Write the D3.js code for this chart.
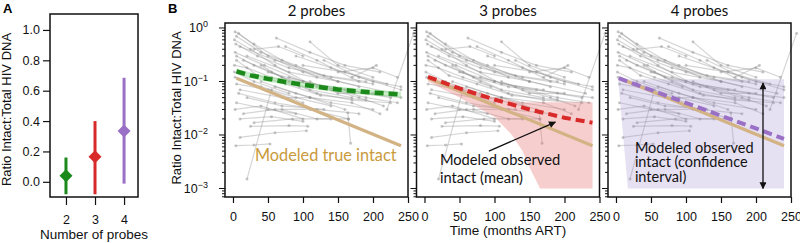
<!DOCTYPE html>
<html><head><meta charset="utf-8">
<script src="https://cdn.jsdelivr.net/npm/d3@7"></script>
<style>
body{margin:0;background:#fff;}
svg{display:block;}
</style></head><body>
<svg id="c" width="800" height="243"></svg>
<script>
// ---------- DATA ----------
const probes = [2, 3, 4];
const ratioMean = [0.04, 0.165, 0.335];
const ratioLow = [-0.082, -0.082, -0.012];
const ratioHigh = [0.16, 0.40, 0.685];
const probeColors = ["#1b8a1b", "#d92a2a", "#9a6fc6"];
const yTicksA = [0, 0.2, 0.4, 0.6, 0.8, 1.0];

const panelTitles = ["2 probes", "3 probes", "4 probes"];
const xTicksB = [0, 50, 100, 150, 200, 250];
const yTickExpB = [0, -1, -2, -3];

// patient trajectories [months ART, ratio]
const trajectories = [
  [[3,0.85],[30,0.5],[70,0.25],[120,0.12]],
  [[5,0.7],[40,0.35],[90,0.2],[150,0.1]],
  [[2,0.6],[25,0.4],[60,0.2],[110,0.09],[170,0.07]],
  [[8,0.8],[50,0.3],[100,0.15],[180,0.08]],
  [[4,0.5],[35,0.3],[80,0.18],[140,0.12],[200,0.09]],
  [[10,0.45],[60,0.25],[130,0.13],[190,0.1]],
  [[3,0.35],[45,0.2],[100,0.1]],
  [[62,0.65],[110,0.35],[160,0.2],[210,0.15]],
  [[75,0.45],[120,0.25],[180,0.1]],
  [[110,0.55],[150,0.2],[200,0.12]],
  [[30,0.4],[65,0.45],[100,0.3]],
  [[15,0.25],[55,0.15],[110,0.07],[170,0.05]],
  [[5,0.3],[30,0.2],[70,0.12],[120,0.08],[200,0.06]],
  [[20,0.3],[80,0.15],[150,0.1],[230,0.06]],
  [[90,0.3],[140,0.18],[200,0.1],[240,0.08]],
  [[100,0.2],[160,0.15],[220,0.09]],
  [[130,0.25],[180,0.12],[240,0.07]],
  [[150,0.15],[200,0.18],[235,0.12]],
  [[170,0.12],[205,0.2]],
  [[3,0.12],[40,0.08],[90,0.05],[140,0.035]],
  [[5,0.09],[50,0.07],[100,0.04]],
  [[8,0.06],[60,0.04],[120,0.03],[180,0.025]],
  [[2,0.15],[30,0.1],[80,0.06]],
  [[10,0.07],[70,0.05],[110,0.05],[160,0.03]],
  [[40,0.1],[90,0.06],[140,0.04],[200,0.03]],
  [[60,0.08],[110,0.05],[170,0.04],[210,0.025]],
  [[80,0.12],[130,0.08],[190,0.05],[235,0.04]],
  [[20,0.05],[70,0.035],[130,0.03]],
  [[5,0.04],[50,0.03],[90,0.025]],
  [[3,0.03],[40,0.035],[100,0.02]],
  [[15,0.025],[60,0.03],[110,0.03],[165,0.02]],
  [[10,0.02],[55,0.022],[100,0.018]],
  [[25,0.0145],[80,0.015],[107,0.0146]],
  [[4,0.0063],[30,0.0065],[53,0.0068]],
  [[10,0.009],[60,0.011],[105,0.012]],
  [[20,0.0015],[55,0.07]],
  [[164,0.026],[168,0.007]],
  [[220,0.03],[258,0.8]],
  [[40,0.2],[80,0.1],[120,0.06],[170,0.045],[225,0.04]],
  [[50,0.15],[100,0.1],[160,0.07],[225,0.05]],
  [[110,0.1],[150,0.06],[190,0.06],[240,0.05]],
  [[2,0.2],[20,0.18],[55,0.12],[95,0.08]],
  [[140,0.07],[180,0.05],[215,0.035]],
  [[30,0.017],[85,0.02],[140,0.02]],
  [[5,0.25],[35,0.13],[75,0.09],[125,0.055],[190,0.045]],
  [[70,0.03],[120,0.02],[165,0.02]]
];

// model curves
const trueMonths = [5, 240];
const trueVals = [0.115, 0.0063];
const obs2Months = [5, 25, 50, 75, 100, 125, 150, 175, 200, 225, 240];
const obs2Vals = [0.155, 0.13, 0.112, 0.098, 0.087, 0.078, 0.071, 0.066, 0.062, 0.059, 0.057];
const obs3Months = [5, 50, 100, 150, 200, 240];
const obs3Vals = [0.122, 0.074, 0.046, 0.03, 0.021, 0.017];
const obs4Months = [4, 240];
const obs4Vals = [0.115, 0.0085];
const band3Months = [5, 50, 100, 125, 140, 150, 165, 240];
const band3Low = [0.1, 0.05, 0.022, 0.01, 0.005, 0.0025, 0.001, 0.001];
const band3High = [0.13, 0.08, 0.05, 0.043, 0.041, 0.041, 0.041, 0.041];
const band4Months = [3, 240, 240, 17];
const band4Vals = [0.11, 0.11, 0.001, 0.001];

// ---------- DRAW ----------
const svg = d3.select("#c");
const font = "Liberation Sans, Arial, sans-serif";
const annFont = "Lato, sans-serif";

// Panel A
const A = {l: 50, r: 138, t: 14, b: 197};
const xA = d3.scaleLinear().domain([1.45, 4.48]).range([A.l, A.r]);
const yA = d3.scaleLinear().domain([-0.1, 1.105]).range([A.b, A.t]);
const gA = svg.append("g");
gA.append("g").attr("transform", `translate(${A.l},0)`)
  .call(d3.axisLeft(yA).tickValues(yTicksA).tickFormat(d3.format(".1f")).tickSize(7).tickPadding(3))
  .call(g => g.select(".domain").remove())
  .call(g => g.selectAll("text").attr("font-size", 12.5).attr("font-family", font).attr("fill", "#111"))
  .call(g => g.selectAll("line").attr("stroke", "#111").attr("stroke-width", 1.2));
gA.append("g").attr("transform", `translate(0,${A.b})`)
  .call(d3.axisBottom(xA).tickValues(probes).tickFormat(d3.format("d")).tickSize(8).tickPadding(10))
  .call(g => g.select(".domain").remove())
  .call(g => g.selectAll("text").attr("font-size", 12.5).attr("font-family", font).attr("fill", "#111"))
  .call(g => g.selectAll("line").attr("stroke", "#111").attr("stroke-width", 1.2));
probes.forEach((p, i) => {
  gA.append("line").attr("x1", xA(p)).attr("x2", xA(p))
    .attr("y1", yA(ratioLow[i])).attr("y2", yA(ratioHigh[i]))
    .attr("stroke", probeColors[i]).attr("stroke-width", 3);
  const cx = xA(p), cy = yA(ratioMean[i]), s = 6.5;
  gA.append("path").attr("d", `M${cx},${cy - s}L${cx + s},${cy}L${cx},${cy + s}L${cx - s},${cy}Z`)
    .attr("fill", probeColors[i]);
});
gA.append("rect").attr("x", A.l).attr("y", A.t).attr("width", A.r - A.l).attr("height", A.b - A.t)
  .attr("fill", "none").attr("stroke", "#111").attr("stroke-width", 1.5);
gA.append("text").attr("transform", `translate(11,${(A.t + A.b) / 2 + 4}) rotate(-90)`)
  .attr("text-anchor", "middle").attr("font-size", 13).attr("font-family", font).attr("fill", "#111")
  .text("Ratio Intact:Total HIV DNA");
gA.append("text").attr("x", (A.l + A.r) / 2).attr("y", 239).attr("text-anchor", "middle")
  .attr("font-size", 13.5).attr("font-family", font).attr("fill", "#111").text("Number of probes");
svg.append("text").attr("x", 3).attr("y", 13).attr("font-size", 13).attr("font-weight", "bold")
  .attr("font-family", font).text("A");
svg.append("text").attr("x", 168).attr("y", 13).attr("font-size", 13).attr("font-weight", "bold")
  .attr("font-family", font).text("B");

// Panel B
const panelLefts = [225, 416.5, 608];
const pw = 183, pTop = 23, pBot = 197;
const yB = d3.scaleLog().domain([Math.pow(10, -3.159), Math.pow(10, 0.093)]).range([pBot, pTop]);

svg.append("text").attr("transform", `translate(181,${(pTop + pBot) / 2 - 2}) rotate(-90)`)
  .attr("text-anchor", "middle").attr("font-size", 13).attr("font-family", font).attr("fill", "#111")
  .text("Ratio Intact:Total HIV DNA");

const defs = svg.append("defs");
defs.append("marker").attr("id", "ah").attr("viewBox", "0 0 10 10").attr("refX", 9).attr("refY", 5)
  .attr("markerWidth", 9).attr("markerHeight", 7).attr("markerUnits", "userSpaceOnUse").attr("orient", "auto-start-reverse")
  .append("path").attr("d", "M0,0L10,5L0,10Z").attr("fill", "#111");

panelLefts.forEach((L, pi) => {
  const x = d3.scaleLinear().domain([-11.4, 250]).range([L, L + pw]);
  const y = yB;
  const g = svg.append("g");
  const line = d3.line().x(d => x(d[0])).y(d => y(d[1]));

  // trajectories
  trajectories.forEach(t => {
    g.append("path").attr("d", line(t)).attr("fill", "none")
      .attr("stroke", "#8a8a8a").attr("stroke-opacity", 0.36).attr("stroke-width", 1.2);
    t.forEach(p => g.append("circle").attr("cx", x(p[0])).attr("cy", y(p[1])).attr("r", 1.5)
      .attr("fill", "#8a8a8a").attr("fill-opacity", 0.45));
  });

  const trueLine = trueMonths.map((m, i) => [m, trueVals[i]]);

  if (pi === 0) {
    const pts = obs2Months.map((m, i) => [m, obs2Vals[i]]);
    const area = d3.area().x(d => x(d[0])).y0(d => y(d[1] / 1.13)).y1(d => y(d[1] * 1.13));
    g.append("path").attr("d", area(pts)).attr("fill", "rgba(120,215,120,0.4)");
    g.append("path").attr("d", line(trueLine)).attr("fill", "none").attr("stroke", "#d3b283").attr("stroke-width", 3.2);
    g.append("path").attr("d", line(pts)).attr("fill", "none").attr("stroke", probeColors[0])
      .attr("stroke-width", 4.5).attr("stroke-dasharray", "9,5");
    g.append("text").attr("x", x(31.4)).attr("y", y(Math.pow(10, -2.486)))
      .attr("font-size", 16.3).attr("fill", "#c99a3c").attr("font-family", annFont).text("Modeled true intact");
  }
  if (pi === 1) {
    const bp = band3Months.map((m, i) => [m, band3Low[i], band3High[i]]);
    const area = d3.area().x(d => x(d[0])).y0(d => y(d[1])).y1(d => y(d[2]));
    g.append("path").attr("d", area(bp)).attr("fill", "rgba(232,120,120,0.36)");
    g.append("path").attr("d", line(trueLine)).attr("fill", "none").attr("stroke", "#d3b283").attr("stroke-width", 3.2);
    g.append("path").attr("d", line(obs3Months.map((m, i) => [m, obs3Vals[i]]))).attr("fill", "none")
      .attr("stroke", probeColors[1]).attr("stroke-width", 4).attr("stroke-dasharray", "9,5");
    const t = g.append("text").attr("font-size", 14.7).attr("fill", "#111").attr("font-family", annFont);
    t.append("tspan").attr("x", x(22)).attr("y", y(Math.pow(10, -2.561))).text("Modeled observed");
    t.append("tspan").attr("x", x(22)).attr("y", y(Math.pow(10, -2.892))).text("intact (mean)");
    g.append("line").attr("x1", x(92)).attr("y1", y(0.005)).attr("x2", x(187)).attr("y2", y(0.0174))
      .attr("stroke", "#111").attr("stroke-width", 1.3).attr("marker-end", "url(#ah)");
  }
  if (pi === 2) {
    const poly = band4Months.map((m, i) => [x(m), y(band4Vals[i])]);
    g.append("path").attr("d", "M" + poly.join("L") + "Z").attr("fill", "rgba(150,130,205,0.25)");
    g.append("path").attr("d", line(trueLine)).attr("fill", "none").attr("stroke", "#d3b283").attr("stroke-width", 3.2);
    g.append("path").attr("d", line(obs4Months.map((m, i) => [m, obs4Vals[i]]))).attr("fill", "none")
      .attr("stroke", probeColors[2]).attr("stroke-width", 4).attr("stroke-dasharray", "9,5");
    const t = g.append("text").attr("font-size", 14.5).attr("fill", "#111").attr("font-family", annFont);
    t.append("tspan").attr("x", x(27)).attr("y", y(Math.pow(10, -2.331))).text("Modeled observed");
    t.append("tspan").attr("x", x(27)).attr("y", y(Math.pow(10, -2.604))).text("intact (confidence");
    t.append("tspan").attr("x", x(27)).attr("y", y(Math.pow(10, -2.879))).text("interval)");
    g.append("line").attr("x1", x(210)).attr("y1", y(0.094)).attr("x2", x(210)).attr("y2", y(0.001))
      .attr("stroke", "#111").attr("stroke-width", 1.3)
      .attr("marker-start", "url(#ah)").attr("marker-end", "url(#ah)");
  }

  // y axis ticks (log)
  const ya = g.append("g").attr("transform", `translate(${L},0)`);
  yB.ticks().forEach(v => {
    const isMajor = yTickExpB.some(e => Math.abs(Math.log10(v) - e) < 1e-6);
    ya.append("line").attr("x1", isMajor ? -6 : -3).attr("x2", 0).attr("y1", yB(v)).attr("y2", yB(v))
      .attr("stroke", "#111").attr("stroke-width", 1);
  });
  if (pi === 0) {
    yTickExpB.forEach(e => {
      const t = ya.append("text").attr("x", -17).attr("y", yB(Math.pow(10, e)) + 4.5).attr("text-anchor", "end")
        .attr("font-size", 12.5).attr("font-family", font).attr("fill", "#111");
      t.append("tspan").text("10");
      t.append("tspan").attr("dy", -5).attr("font-size", 9).text(e === 0 ? "0" : "\u2212" + (-e));
    });
  }
  // x axis
  g.append("g").attr("transform", `translate(0,${pBot})`)
    .call(d3.axisBottom(x).tickValues(xTicksB).tickSize(6).tickPadding(9))
    .call(a => a.select(".domain").remove())
    .call(a => a.selectAll("text").attr("font-size", 12.5).attr("font-family", font).attr("fill", "#111"))
    .call(a => a.selectAll("line").attr("stroke", "#111").attr("stroke-width", 1.2));
  // frame
  g.append("rect").attr("x", L).attr("y", pTop).attr("width", pw).attr("height", pBot - pTop)
    .attr("fill", "none").attr("stroke", "#111").attr("stroke-width", 1.5);
  g.append("text").attr("x", L + pw / 2).attr("y", 16).attr("text-anchor", "middle")
    .attr("font-size", 15).attr("font-family", annFont).attr("fill", "#111").text(panelTitles[pi]);
});

svg.append("text").attr("x", 416.5 + pw / 2).attr("y", 235).attr("text-anchor", "middle")
  .attr("font-size", 13.5).attr("font-family", font).attr("fill", "#111").text("Time (months ART)");
</script>
</body></html>
